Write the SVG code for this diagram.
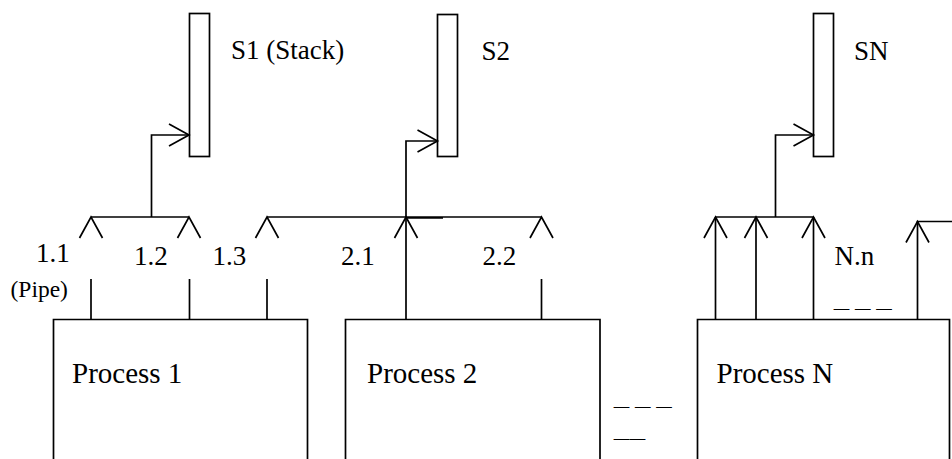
<svg xmlns="http://www.w3.org/2000/svg" xmlns:xlink="http://www.w3.org/1999/xlink" width="952" height="459" viewBox="0 0 952 459">
  <style>
    .ln { fill: none; stroke: #000; stroke-width: 1.7; stroke-linejoin: miter; }
    .box { fill: #fff; stroke: #000; stroke-width: 1.7; }
    text { font-family: 'Liberation Serif', 'Times New Roman', serif; fill: #000; }
    .lbl { font-size: 27px; }
    .big { font-size: 29px; }
    .small { font-size: 23.5px; }
    .dash { font-size: 15px; stroke: #000; stroke-width: 0.5; word-spacing: 2.5px; }
    .tight { letter-spacing: 1px; }
  </style>
  <defs>
    <!-- open chevron heads, tip at the origin -->
    <path id="head-up" class="ln" d="M-11.5,21 L0,0 L11.5,21"/>
    <path id="head-right" class="ln" d="M-20,-11 L0,0 L-20,11"/>
  </defs>
  <rect width="952" height="459" fill="#fff"/>

  <!-- stacks -->
  <g id="stack-s1">
    <rect class="box" x="189.5" y="13.5" width="20" height="143"/>
    <text class="lbl" x="231" y="59">S1 (Stack)</text>
  </g>
  <g id="stack-s2">
    <rect class="box" x="437.5" y="14.5" width="20" height="142"/>
    <text class="lbl" x="481.5" y="60">S2</text>
  </g>
  <g id="stack-sn">
    <rect class="box" x="813.5" y="13.5" width="20" height="143"/>
    <text class="lbl" x="854" y="60">SN</text>
  </g>

  <!-- processes (open at the bottom edge) -->
  <g id="process-1">
    <path class="ln" d="M53.5,470 V319.5 H307.5 V470"/>
    <text class="big" x="72" y="382.5">Process 1</text>
  </g>
  <g id="process-2">
    <path class="ln" d="M345.5,470 V319.5 H600 V470"/>
    <text class="big" x="367" y="382.5">Process 2</text>
  </g>
  <g id="process-n">
    <path class="ln" d="M697.5,470 V319.5 H949.5 V470"/>
    <text class="big" x="716.5" y="382.5">Process N</text>
  </g>

  <!-- pipes and their merges into the stacks -->
  <g id="connectors">
    <!-- process 1 pipes 1.1 / 1.2 feeding S1 -->
    <path class="ln" d="M91,217 H189"/>
    <path class="ln" d="M151.5,217 V135 H189"/>
    <use xlink:href="#head-right" x="189" y="135"/>
    <use xlink:href="#head-up" x="91" y="217"/>
    <use xlink:href="#head-up" x="189" y="217"/>
    <path class="ln" d="M91,279 V319.5"/>
    <path class="ln" d="M189.5,279 V319.5"/>

    <!-- pipes 1.3 / 2.1 / 2.2 feeding S2 -->
    <path class="ln" d="M267,217 H541.5"/>
    <path class="ln" d="M406,217.8 H443"/>
    <path class="ln" d="M406,319.5 V141 H437.5"/>
    <use xlink:href="#head-right" x="437.5" y="141"/>
    <use xlink:href="#head-up" x="267" y="217"/>
    <use xlink:href="#head-up" x="406" y="217"/>
    <use xlink:href="#head-up" x="541.5" y="217"/>
    <path class="ln" d="M267,279 V319.5"/>
    <path class="ln" d="M541.5,279 V319.5"/>

    <!-- process N pipes feeding SN -->
    <path class="ln" d="M715.5,217 H813.5"/>
    <path class="ln" d="M775.5,217 V135 H813.5"/>
    <use xlink:href="#head-right" x="813.5" y="135"/>
    <path class="ln" d="M715.5,319.5 V217"/>
    <path class="ln" d="M756,319.5 V217"/>
    <path class="ln" d="M813.5,319.5 V217"/>
    <use xlink:href="#head-up" x="715.5" y="217"/>
    <use xlink:href="#head-up" x="756" y="217"/>
    <use xlink:href="#head-up" x="813.5" y="217"/>

    <!-- last pipe of process N, leaving to the right -->
    <path class="ln" d="M917.5,319.5 V221.5 H952"/>
    <use xlink:href="#head-up" x="917.5" y="221.5"/>
  </g>

  <!-- pipe labels -->
  <g id="pipe-labels">
    <text class="lbl" x="36" y="261.5">1.1</text>
    <text class="small" x="10.5" y="297">(Pipe)</text>
    <text class="lbl" x="134" y="265">1.2</text>
    <text class="lbl" x="212.5" y="265">1.3</text>
    <text class="lbl" x="341" y="264.5">2.1</text>
    <text class="lbl" x="482.5" y="264.5">2.2</text>
    <text class="lbl" x="834.5" y="265">N.n</text>
    <text class="dash" x="834" y="313">— — —</text>
  </g>

  <!-- ellipsis between process 2 and process N -->
  <g id="ellipsis">
    <text class="dash" x="614" y="411">— — —</text>
    <text class="dash tight" x="614" y="443">——</text>
  </g>
</svg>
